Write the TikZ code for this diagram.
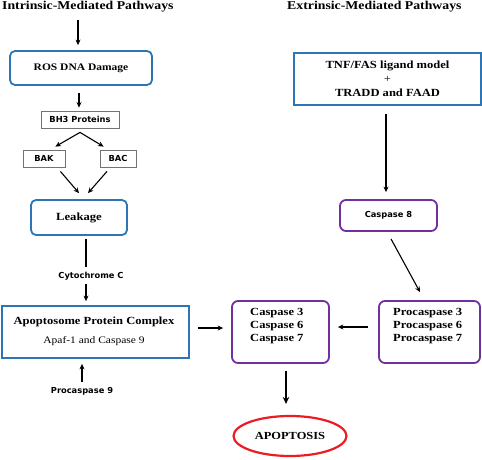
\documentclass[tikz,border=0pt]{standalone}
\usepackage{fontspec}
\setmainfont{Liberation Serif}
\newfontfamily\wser[FakeStretch=1.15]{Liberation Serif}
\newfontfamily\sansb{DejaVu Sans}
\usetikzlibrary{arrows.meta,shapes.geometric,calc}
\definecolor{bbox}{RGB}{46,117,182}
\definecolor{pbox}{RGB}{112,48,160}
\definecolor{rbox}{RGB}{235,28,36}
\tikzset{
  x=1pt,y=-1pt,
  arr/.style={-{Stealth[length=5.5pt,width=5pt]},line width=1.1pt},
  bluer/.style={draw=bbox,line width=1.8pt,rounded corners=5pt},
  bluesq/.style={draw=bbox,line width=1.8pt},
  purp/.style={draw=pbox,line width=1.8pt,rounded corners=6pt},
  grayb/.style={draw=black!55,line width=0.8pt},
  sertxt/.style={font=\wser\fontsize{10}{12}\selectfont\bfseries},
  santxt/.style={font=\sansb\fontsize{8.3}{9}\selectfont\bfseries},
  title/.style={font=\wser\fontsize{12}{13}\selectfont\bfseries,anchor=west,inner sep=0pt},
}
\begin{document}
\begin{tikzpicture}
\useasboundingbox (0,0) rectangle (482,460);
% titles
\node[title] (t1) at (2,7) {Intrinsic-Mediated Pathways};
\node[title] (t2) at (287,7) {Extrinsic-Mediated Pathways};
% intrinsic
\coordinate (top) at (78,20);
\node[bluer,minimum width=142pt,minimum height=34pt,sertxt] (ros) at (81,68) {ROS DNA Damage};
\node[grayb,minimum width=78pt,minimum height=17pt,santxt,inner sep=0pt] (bh3) at (80,119.5) {BH3 Proteins};
\node[grayb,minimum width=42pt,minimum height=17pt,santxt,inner sep=0pt] (bak) at (44,158.5) {BAK};
\node[grayb,minimum width=36pt,minimum height=17pt,santxt,inner sep=0pt] (bac) at (118,158.5) {BAC};
\node[bluer,minimum width=96pt,minimum height=35pt,font=\wser\fontsize{11}{12}\selectfont\bfseries] (leak) at (79,217.5) {Leakage};
\node[santxt,inner sep=1pt] (cyto) at (91,276) {Cytochrome C};
\node[bluesq,minimum width=187pt,minimum height=52pt] (apo) at (95.5,332) {};
\node[font=\wser\fontsize{10.9}{12}\selectfont\bfseries,inner sep=0pt] (apo1) at (94,322) {Apoptosome Protein Complex};
\node[font=\wser\fontsize{10}{11}\selectfont,inner sep=0pt] (apo2) at (94,341) {Apaf-1 and Caspase 9};
\node[santxt,inner sep=1pt] (pro9) at (82,391) {Procaspase 9};
% extrinsic
\node[bluesq,minimum width=187pt,minimum height=52pt,align=center,font=\wser\fontsize{10.9}{14}\selectfont\bfseries] (tnf) at (387.5,79) {TNF/FAS ligand model\\{\mdseries+}\\TRADD and FAAD};
\node[purp,minimum width=97pt,minimum height=31pt,santxt] (c8) at (388.5,215.5) {Caspase 8};
\node[purp,minimum width=97pt,minimum height=62pt] (c367) at (280.5,332) {};
\node[align=left,anchor=north west,inner sep=0pt,font=\wser\fontsize{10.9}{13}\selectfont\bfseries] (c367t) at (250,308) {Caspase 3\\Caspase 6\\Caspase 7};
\node[purp,minimum width=101pt,minimum height=62pt] (p367) at (429.5,332) {};
\node[align=left,anchor=north west,inner sep=0pt,font=\wser\fontsize{10.9}{13}\selectfont\bfseries] (p367t) at (393,308) {Procaspase 3\\Procaspase 6\\Procaspase 7};
\node[ellipse,draw=rbox,line width=2.2pt,minimum width=113pt,minimum height=40pt,font=\wser\fontsize{10.8}{12}\selectfont\bfseries] (apop) at (290,436) {APOPTOSIS};
% connectors
\draw[arr] (top) -- ($(ros.north -| top)+(0,-5)$);
\draw[arr] ($(ros.south)+(-2,7)$) -- ($(bh3.north)+(-1,-3)$);
\draw[arr] ($(bh3.south)+(0,4)$) -- ($(bak.north east)+(-10,-3)$);
\draw[arr] ($(bh3.south)+(0,4)$) -- ($(bac.north west)+(4,-3)$);
\draw[arr] ($(bak.south east)+(-5,4)$) -- ($(leak.north)+(0,-6)$);
\draw[arr] ($(bac.south)+(-11,4)$) -- ($(leak.north)+(9,-6)$);
\draw[line width=1.1pt] ($(leak.south)+(7,3)$) -- ($(cyto.north)+(-5,-4)$);
\draw[arr] ($(cyto.south)+(-5,3)$) -- ($(apo.north -| 86,0)+(0,-4)$);
\draw[arr] ($(pro9.north)+(0,-4)$) -- ($(apo.south -| pro9.north)+(0,5)$);
\draw[arr] ($(apo.east)+(8,-4)$) -- ($(c367.west)+(-8,-4)$);
\draw[arr] ($(tnf.south -| 386,0)+(0,8)$) -- ($(c8.north -| 386,0)+(0,-7)$);
\draw[arr] ($(c8.south)+(2.5,7)$) -- ($(p367.north)+(-9.5,-8)$);
\draw[arr] ($(p367.west)+(-10,-5)$) -- ($(c367.east)+(8,-5)$);
\draw[-{Stealth[length=7pt,width=6.5pt]},line width=2.2pt] ($(c367.south -| 286,0)+(0,7)$) -- ($(apop.north -| 286,0)+(0,-11)$);
\end{tikzpicture}
\end{document}
